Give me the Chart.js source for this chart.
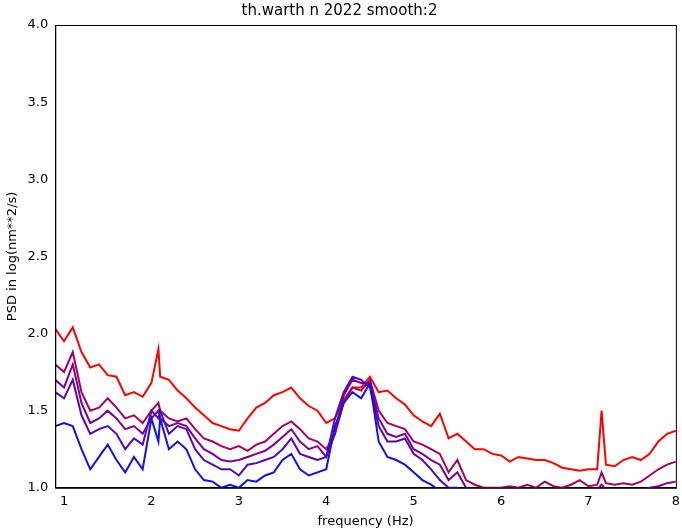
<!DOCTYPE html>
<html>
<head>
<meta charset="utf-8">
<script src="https://cdn.jsdelivr.net/npm/chart.js@4"></script>
<style>
  html, body { margin: 0; padding: 0; background: #fff; }
  #wrap { width: 682px; height: 531px; }
</style>
</head>
<body>
<div id="wrap"><canvas id="c" width="682" height="531"></canvas></div>
<script>
// frequencies (Hz), shared by all curves
const freq = [0.9,1.0,1.1,1.2,1.3,1.4,1.5,1.6,1.7,1.8,1.9,2.0,2.08,2.1,2.2,2.3,2.4,2.5,2.6,2.7,2.8,2.9,
  3.0,3.1,3.2,3.3,3.4,3.5,3.6,3.7,3.8,3.9,4.0,4.1,4.2,4.3,4.4,4.5,4.6,4.7,4.8,4.9,
  5.0,5.1,5.2,5.3,5.4,5.5,5.6,5.7,5.8,5.9,6.0,6.1,6.2,6.3,6.4,6.5,6.6,6.7,6.8,6.9,
  7.0,7.1,7.15,7.2,7.3,7.4,7.5,7.6,7.7,7.8,7.9,8.0];

const psdRed = [2.03,1.95,2.04,1.88,1.78,1.80,1.73,1.72,1.60,1.62,1.59,1.68,1.90,1.72,1.70,1.63,1.58,1.52,1.47,1.42,1.40,1.38,
  1.37,1.45,1.52,1.55,1.60,1.62,1.65,1.58,1.53,1.50,1.42,1.45,1.57,1.65,1.65,1.72,1.62,1.63,1.58,1.54,
  1.47,1.43,1.40,1.48,1.32,1.35,1.30,1.25,1.25,1.22,1.21,1.17,1.20,1.19,1.18,1.18,1.16,1.13,1.12,1.11,
  1.12,1.12,1.50,1.15,1.14,1.18,1.20,1.18,1.22,1.30,1.35,1.37];
const psdCrimson = [1.80,1.75,1.88,1.62,1.50,1.52,1.58,1.52,1.45,1.47,1.42,1.50,1.55,1.50,1.45,1.43,1.45,1.38,1.32,1.30,1.27,1.25,
  1.27,1.24,1.28,1.30,1.35,1.40,1.43,1.38,1.32,1.30,1.25,1.35,1.55,1.65,1.63,1.70,1.50,1.42,1.40,1.38,
  1.30,1.28,1.25,1.22,1.10,1.18,1.05,1.02,1.00,1.00,1.00,1.01,1.00,1.02,1.00,1.04,1.01,1.00,1.02,1.05,
  1.01,1.02,1.10,1.03,1.02,1.03,1.02,1.04,1.08,1.12,1.15,1.17];
const psdPurple = [1.70,1.65,1.80,1.55,1.42,1.45,1.50,1.45,1.38,1.40,1.35,1.45,1.50,1.45,1.40,1.42,1.40,1.32,1.25,1.22,1.18,1.17,
  1.18,1.20,1.22,1.24,1.28,1.33,1.38,1.30,1.25,1.27,1.20,1.35,1.60,1.70,1.68,1.68,1.45,1.35,1.33,1.35,
  1.25,1.22,1.18,1.15,1.05,1.10,1.00,0.98,0.97,0.98,0.97,0.97,0.98,0.97,0.98,0.97,0.98,0.97,0.98,0.99,
  0.98,0.99,1.02,0.99,0.98,0.99,0.98,0.99,1.00,1.01,1.03,1.04];
const psdIndigo = [1.62,1.58,1.70,1.47,1.35,1.38,1.40,1.35,1.25,1.32,1.28,1.50,1.45,1.50,1.35,1.40,1.38,1.25,1.18,1.15,1.12,1.12,
  1.08,1.15,1.16,1.18,1.20,1.25,1.32,1.22,1.20,1.18,1.20,1.45,1.62,1.72,1.70,1.65,1.40,1.30,1.30,1.32,
  1.22,1.18,1.12,1.05,1.00,1.00,0.97,0.95,0.95,0.95,0.95,0.95,0.95,0.95,0.95,0.95,0.95,0.95,0.95,0.95,
  0.95,0.95,0.97,0.95,0.95,0.95,0.95,0.95,0.95,0.96,0.97,0.98];
const psdBlue = [1.40,1.42,1.40,1.25,1.12,1.20,1.28,1.18,1.10,1.20,1.12,1.45,1.30,1.45,1.25,1.30,1.25,1.12,1.05,1.04,1.00,1.02,
  1.00,1.05,1.04,1.08,1.10,1.18,1.22,1.12,1.08,1.10,1.12,1.40,1.55,1.62,1.58,1.68,1.30,1.20,1.18,1.15,
  1.10,1.05,1.02,0.98,0.95,0.93,0.92,0.92,0.92,0.92,0.92,0.92,0.92,0.92,0.92,0.92,0.92,0.92,0.92,0.92,
  0.92,0.92,0.93,0.92,0.92,0.92,0.92,0.92,0.92,0.92,0.92,0.92];

const xTicks = [1,2,3,4,5,6,7,8];
const yTicks = [1.0,1.5,2.0,2.5,3.0,3.5,4.0];

const series = [
  {data: psdBlue, color: '#1010f0'},
  {data: psdIndigo, color: '#5008b8'},
  {data: psdPurple, color: '#80008f'},
  {data: psdCrimson, color: '#a80060'},
  {data: psdRed, color: '#ff0000'}
];

const font = 'DejaVu Sans';

// matplotlib-style box around the axes
const frame = {
  id: 'frame',
  afterDraw(chart) {
    const {ctx, chartArea: a} = chart;
    ctx.save();
    ctx.strokeStyle = '#000';
    ctx.lineWidth = 1;
    ctx.strokeRect(a.left + 0.5, a.top + 0.5, a.right - a.left, a.bottom - a.top);
    ctx.restore();
  }
};

new Chart(document.getElementById('c'), {
  type: 'line',
  data: {
    datasets: series.map((s) => ({
      data: freq.map((f, i) => ({x: f, y: s.data[i]})),
      borderColor: s.color,
      borderWidth: 2,
      pointRadius: 0,
      tension: 0,
      fill: false
    }))
  },
  options: {
    responsive: false,
    animation: false,
    layout: {padding: {left: 3, right: 6, top: 1, bottom: 0}},
    plugins: {
      legend: {display: false},
      tooltip: {enabled: false},
      title: {
        display: true,
        text: 'th.warth n 2022 smooth:2',
        color: '#000',
        font: {family: font, size: 15, weight: 'normal'},
        padding: {top: 1, bottom: 5}
      }
    },
    scales: {
      x: {
        type: 'linear',
        min: 0.9,
        max: 8,
        afterBuildTicks: (ax) => { ax.ticks = xTicks.map((v) => ({value: v})); },
        grid: {display: false, drawTicks: true, tickLength: 4, tickColor: '#000'},
        border: {color: '#000'},
        ticks: {color: '#000', font: {family: font, size: 13}, padding: 2, maxRotation: 0},
        title: {display: true, text: 'frequency (Hz)', color: '#000', font: {family: font, size: 13}, padding: {top: 2, bottom: 2}}
      },
      y: {
        min: 1,
        max: 4,
        afterBuildTicks: (ax) => { ax.ticks = yTicks.map((v) => ({value: v})); },
        grid: {display: false, drawTicks: true, tickLength: 4, tickColor: '#000'},
        border: {color: '#000'},
        ticks: {color: '#000', font: {family: font, size: 13}, padding: 3, callback: (v) => v.toFixed(1)},
        title: {display: true, text: 'PSD in log(nm**2/s)', color: '#000', font: {family: font, size: 13}, padding: {top: 2, bottom: 4}}
      }
    }
  },
  plugins: [frame]
});
</script>
</body>
</html>
